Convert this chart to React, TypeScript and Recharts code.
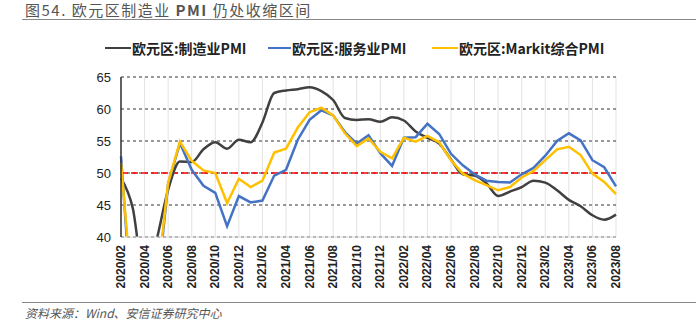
import React from 'react';
import { LineChart, Line, XAxis, YAxis, CartesianGrid, ReferenceLine } from 'recharts';

const months: string[] = [
  '2020/02','2020/03','2020/04','2020/05','2020/06','2020/07','2020/08','2020/09','2020/10','2020/11','2020/12',
  '2021/01','2021/02','2021/03','2021/04','2021/05','2021/06','2021/07','2021/08','2021/09','2021/10','2021/11','2021/12',
  '2022/01','2022/02','2022/03','2022/04','2022/05','2022/06','2022/07','2022/08','2022/09','2022/10','2022/11','2022/12',
  '2023/01','2023/02','2023/03','2023/04','2023/05','2023/06','2023/07','2023/08',
];

const manufacturing: number[] = [
  49.2, 44.5, 33.4, 39.4, 47.4, 51.8, 51.7, 53.7, 54.8, 53.8, 55.2,
  54.8, 57.9, 62.5, 62.9, 63.1, 63.4, 62.8, 61.4, 58.6, 58.3, 58.4, 58.0,
  58.7, 58.2, 56.5, 55.5, 54.6, 52.1, 49.8, 49.6, 48.4, 46.4, 47.1, 47.8,
  48.8, 48.5, 47.3, 45.8, 44.8, 43.4, 42.7, 43.5,
];

const services: number[] = [
  52.6, 26.4, 12.0, 30.5, 48.3, 54.7, 50.5, 48.0, 46.9, 41.7, 46.4,
  45.4, 45.7, 49.6, 50.5, 55.2, 58.3, 59.8, 59.0, 56.4, 54.6, 55.9, 53.1,
  51.1, 55.5, 55.6, 57.7, 56.1, 53.0, 51.2, 49.8, 48.8, 48.6, 48.5, 49.8,
  50.8, 52.7, 55.0, 56.2, 55.1, 52.0, 50.9, 47.9,
];

const composite: number[] = [
  51.6, 29.7, 13.6, 31.9, 48.5, 54.9, 51.9, 50.4, 50.0, 45.3, 49.1,
  47.8, 48.8, 53.2, 53.8, 57.1, 59.5, 60.2, 59.0, 56.2, 54.2, 55.4, 53.3,
  52.3, 55.5, 54.9, 55.8, 54.8, 52.0, 49.9, 48.9, 48.1, 47.3, 47.8, 49.3,
  50.3, 52.0, 53.7, 54.1, 52.8, 49.9, 48.6, 46.7,
];

const tickLabels: string[] = months.filter((_, i) => i % 2 === 0);
const yTicks: number[] = [40, 45, 50, 55, 60, 65];

const seriesNames = ['欧元区:制造业PMI', '欧元区:服务业PMI', '欧元区:Markit综合PMI'];
const seriesColors = ['#404040', '#4472C4', '#FFC000'];

const data = months.map((m, i) => ({
  month: m,
  mfg: manufacturing[i],
  svc: services[i],
  cmp: composite[i],
}));

const XTick = (props: any) => {
  const { x, y, payload } = props;
  return (
    <text
      x={x}
      y={y}
      transform={`rotate(-90 ${x} ${y})`}
      textAnchor="end"
      dominantBaseline="central"
      fontSize={12}
      fontWeight="bold"
      fontFamily="'Liberation Sans', Arial, sans-serif"
      fill="#222"
    >
      {payload.value}
    </text>
  );
};

const legendPos = [
  { lineX: 105, lineW: 26 },
  { lineX: 268, lineW: 23 },
  { lineX: 432, lineW: 26 },
];

export default function App() {
  return (
    <div style={{ position: 'absolute', left: 0, top: 0, width: 696, height: 330, background: '#fff', overflow: 'hidden' }}>
      <div
        style={{
          position: 'absolute', left: 25, top: 2, fontSize: 15, color: '#555', whiteSpace: 'nowrap',
          fontFamily: "'Noto Sans CJK SC', sans-serif", letterSpacing: 1.5, lineHeight: '15px',
        }}
      >
        图54. 欧元区制造业 <b>PMI</b> 仍处收缩区间
      </div>
      <div style={{ position: 'absolute', left: 22, top: 19, width: 674, height: 1, background: '#888' }} />
      {seriesNames.map((n, i) => (
        <div key={n}>
          <div
            style={{
              position: 'absolute', left: legendPos[i].lineX, top: 47, width: legendPos[i].lineW, height: 2,
              background: seriesColors[i],
            }}
          />
          <div
            style={{
              position: 'absolute', left: legendPos[i].lineX + legendPos[i].lineW + 1, top: 38, fontSize: 14,
              fontWeight: 'bold', color: '#222', whiteSpace: 'nowrap', lineHeight: '20px',
              fontFamily: "'Noto Sans CJK SC', sans-serif",
            }}
          >
            {n}
          </div>
        </div>
      ))}
      <LineChart width={696} height={330} data={data} margin={{ top: 77, right: 80, bottom: 33, left: 81 }}>
        <CartesianGrid horizontal={false} vertical={true} stroke="#e3e3e3" strokeWidth={1} />
        <CartesianGrid horizontal={true} vertical={false} stroke="#333" strokeDasharray="3 3" strokeWidth={1} />
        <XAxis
          dataKey="month"
          ticks={tickLabels}
          interval={0}
          height={60}
          tickLine={false}
          axisLine={{ stroke: '#d9d9d9' }}
          tick={<XTick />}
        />
        <YAxis
          width={40}
          domain={[40, 65]}
          ticks={yTicks}
          allowDataOverflow
          tickLine={false}
          axisLine={{ stroke: '#333', strokeWidth: 1.5 }}
          tick={{ fontSize: 13, fill: '#222', fontFamily: "'Liberation Sans', Arial, sans-serif" }}
          tickMargin={4}
        />
        <ReferenceLine y={50} stroke="#FF0000" strokeDasharray="7 3" strokeWidth={1.5} />
        <Line type="monotone" dataKey="mfg" stroke={seriesColors[0]} strokeWidth={2.5} dot={false} isAnimationActive={false} />
        <Line type="linear" dataKey="svc" stroke={seriesColors[1]} strokeWidth={2.5} dot={false} isAnimationActive={false} />
        <Line type="linear" dataKey="cmp" stroke={seriesColors[2]} strokeWidth={2.5} dot={false} isAnimationActive={false} />
      </LineChart>
      <div style={{ position: 'absolute', left: 22, top: 302, width: 674, height: 1, background: '#888' }} />
      <div
        style={{
          position: 'absolute', left: 25, top: 304, fontSize: 12, color: '#555', fontStyle: 'italic', whiteSpace: 'nowrap',
          fontFamily: "'Noto Sans CJK SC', sans-serif", lineHeight: '18px',
        }}
      >
        资料来源：Wind、安信证券研究中心
      </div>
    </div>
  );
}
